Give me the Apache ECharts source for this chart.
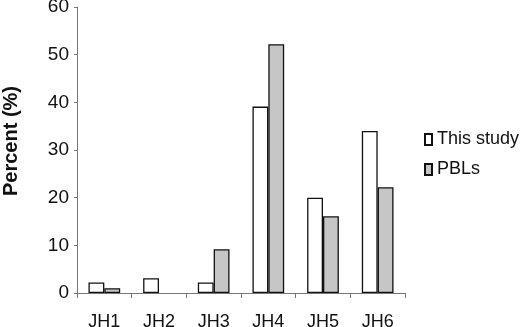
<!DOCTYPE html>
<html>
<head>
<meta charset="utf-8">
<script src="https://cdn.jsdelivr.net/npm/echarts@6/dist/echarts.min.js"></script>
<style>html,body{margin:0;padding:0;background:#fff}#c{width:520px;height:327px}</style>
</head>
<body>
<div id="c"></div>
<script>
const categories = ['JH1', 'JH2', 'JH3', 'JH4', 'JH5', 'JH6'];
const thisStudy = [2.2, 3.1, 2.2, 39.1, 20, 34];
const pbls = [1, 0, 9.2, 52.2, 16.1, 22.2];
const seriesNames = ['This study', 'PBLs'];
const yTicks = [0, 10, 20, 30, 40, 50, 60];

const chart = echarts.init(document.getElementById('c'), null, {renderer: 'canvas'});
const font = 'Liberation Sans, Arial, sans-serif';
const toData = arr => arr.map(v => v === 0 ? {value: 0, itemStyle: {borderWidth: 0}} : v);
chart.setOption({
  animation: false,
  backgroundColor: '#fff',
  textStyle: {fontFamily: font},
  grid: {left: 77, right: 115, top: 7, bottom: 34, containLabel: false, outerBoundsMode: 'none'},
  legend: {
    orient: 'vertical', left: 419, top: 125,
    itemWidth: 7, itemHeight: 11, itemGap: 11,
    icon: 'rect',
    textStyle: {fontFamily: font, fontSize: 18, color: '#111', lineHeight: 19, padding: [0,0,0,0]},
    data: seriesNames
  },
  xAxis: {
    type: 'category', data: categories,
    axisLine: {lineStyle: {color: '#777', width: 1}},
    axisTick: {show: true, length: 5, lineStyle: {color: '#777'}},
    axisLabel: {fontFamily: font, fontSize: 18, color: '#111', margin: 20}
  },
  yAxis: {
    type: 'value', min: yTicks[0], max: yTicks[yTicks.length-1], interval: 10,
    name: 'Percent (%)', nameLocation: 'middle', nameGap: 56,
    nameTextStyle: {fontFamily: font, fontSize: 20, fontWeight: 'bold', color: '#111', padding: [0, 0, 0, 18]},
    splitLine: {show: false},
    axisLine: {show: true, lineStyle: {color: '#777', width: 1}},
    axisTick: {show: true, length: 3, lineStyle: {color: '#777'}},
    axisLabel: {fontFamily: font, fontSize: 19, color: '#111', margin: 8}
  },
  series: [
    {name: seriesNames[0], type: 'bar', data: toData(thisStudy), barGap: '0%', barCategoryGap: '42%',
     itemStyle: {color: '#ffffff', borderColor: '#111', borderWidth: 1.3}},
    {name: seriesNames[1], type: 'bar', data: toData(pbls),
     itemStyle: {color: '#c6c6c6', borderColor: '#111', borderWidth: 1.3}}
  ]
});
</script>
</body>
</html>
